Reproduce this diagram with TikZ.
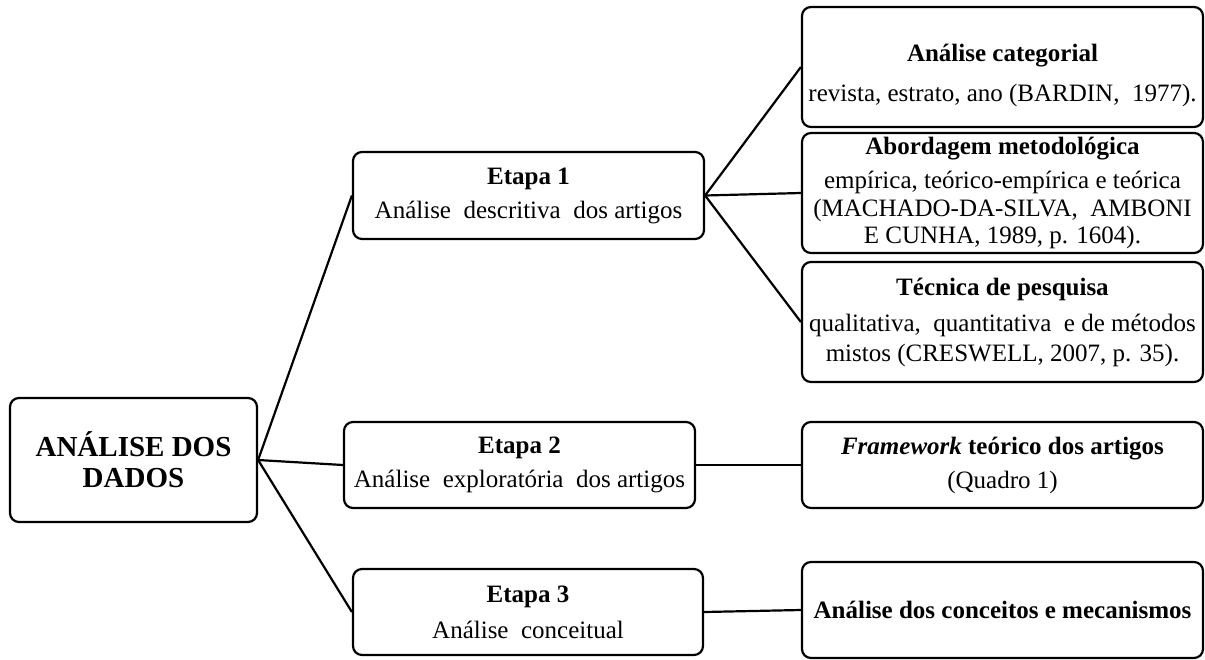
\documentclass[tikz,border=0pt]{standalone}
\usepackage{fontspec}
\setmainfont{Liberation Serif}
\begin{document}
\begin{tikzpicture}[x=1pt,y=-1pt,
  box/.style={draw=black, line width=2.2pt, rounded corners=9pt, fill=white,
    align=center, inner sep=2pt, font=\fontsize{25}{30}\selectfont},
  link/.style={draw=black, line width=2.2pt}]
\useasboundingbox (0,0) rectangle (1205,659);
% root
\node[box, minimum width=247pt, minimum height=124pt,
  font=\fontsize{29}{31}\selectfont\bfseries] (root) at (133.5,460) {ANÁLISE DOS\\DADOS};
% stages
\node[box, minimum width=351pt, minimum height=87pt] (e1) at (528.5,195.5)
  {\textbf{Etapa 1}\\[4pt]Análise\ \ descritiva\ \ dos artigos};
\node[box, minimum width=351pt, minimum height=86pt] (e2) at (519.5,465)
  {\textbf{Etapa 2}\\[4pt]Análise\ \ exploratória\ \ dos artigos};
\node[box, minimum width=350pt, minimum height=86pt] (e3) at (528,612)
  {\textbf{Etapa 3}\\[6pt]Análise\ \ conceitual};
% right column
\node[box, minimum width=401pt, minimum height=120pt] (c1) at (1002.5,67)
  {\rule{0pt}{34pt}\textbf{Análise categorial}\\[10pt]revista,\ estrato,\ ano (BARDIN,\ \ 1977).};
\node[box, minimum width=401pt, minimum height=120pt] (c2) at (1002.5,193)
  {\textbf{Abordagem metodológica}\\[4pt]empírica, teórico-empírica e teórica\\[-2pt](MACHADO-DA-SILVA,\ \ AMBONI\\[-3pt]E CUNHA, 1989, p. 1604).};
\node[box, minimum width=401pt, minimum height=120pt] (c3) at (1002.5,322)
  {\textbf{Técnica de pesquisa}\\[6pt]qualitativa,\ \ quantitativa\ \ e de métodos\\mistos (CRESWELL, 2007, p. 35).};
\node[box, minimum width=401pt, minimum height=86pt] (f2) at (1002.5,465)
  {\textbf{\textit{Framework} teórico dos artigos}\\[4pt](Quadro 1)};
\node[box, minimum width=401pt, minimum height=96pt] (f3) at (1002.5,610)
  {\textbf{Análise dos conceitos e mecanismos}};
% connectors
\draw[link] (root.east) -- (e1.west);
\draw[link] (root.east) -- (e2.west);
\draw[link] (root.east) -- (e3.west);
\draw[link] (e1.east) -- (c1.west);
\draw[link] (e1.east) -- (c2.west);
\draw[link] (e1.east) -- (c3.west);
\draw[link] (e2.east) -- (f2.west);
\draw[link] (e3.east) -- (f3.west);
\end{tikzpicture}
\end{document}
